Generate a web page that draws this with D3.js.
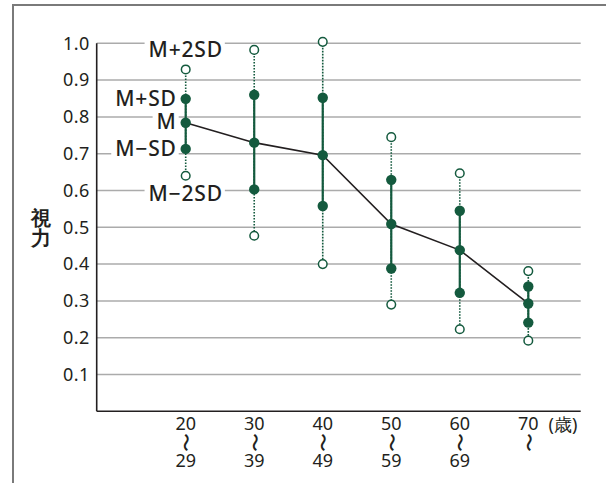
<!DOCTYPE html>
<html><head><meta charset="utf-8">
<script src="https://cdn.jsdelivr.net/npm/d3@7"></script>
<style>
html,body{margin:0;padding:0;background:#fff;}
svg{display:block;}
text{font-family:"Noto Sans","Open Sans",sans-serif;fill:#231f20;}
</style></head>
<body><svg id="c" width="606" height="483"></svg>
<script>
const categories = ["20","30","40","50","60","70"];
const categoryEnds = ["29","39","49","59","69",""];
const mean     = [0.784, 0.730, 0.696, 0.509, 0.438, 0.293];
const plusSD   = [0.849, 0.860, 0.852, 0.629, 0.545, 0.339];
const minusSD  = [0.713, 0.603, 0.558, 0.388, 0.322, 0.241];
const plus2SD  = [0.929, 0.982, 1.004, 0.745, 0.647, 0.381];
const minus2SD = [0.640, 0.477, 0.400, 0.290, 0.223, 0.192];
const yTicks = [0.1,0.2,0.3,0.4,0.5,0.6,0.7,0.8,0.9,1.0];

const green = "#145a3e";
const svg = d3.select("#c");
const x0 = 96.7, x1 = 580.7;
const y = d3.scaleLinear().domain([0,1]).range([411.3, 43.3]);
const x = d3.scalePoint().domain(categories).range([185.7, 528.3]);

// frame
svg.append("line").attr("x1",13).attr("x2",606).attr("y1",5).attr("y2",5).attr("stroke","#7a7a7a").attr("stroke-width",2);
svg.append("line").attr("x1",13).attr("x2",13).attr("y1",4).attr("y2",483).attr("stroke","#7a7a7a").attr("stroke-width",2);

// gridlines
svg.append("g").selectAll("line").data(yTicks).join("line")
  .attr("x1",x0).attr("x2",x1).attr("y1",d=>y(d)).attr("y2",d=>y(d))
  .attr("stroke","#ababab").attr("stroke-width",1.5);

// y axis labels
const ya = svg.append("g").attr("transform",`translate(${x0},0)`)
  .call(d3.axisLeft(y).tickValues(yTicks).tickSize(0).tickPadding(7).tickFormat(d3.format(".1f")));
ya.select(".domain").remove();
ya.selectAll("text").attr("font-size",18).attr("letter-spacing",0.4).attr("font-family","Noto Sans").attr("fill","#231f20");

// axes lines
svg.append("line").attr("x1",x0).attr("x2",x0).attr("y1",y(1)).attr("y2",y(0)).attr("stroke","#231f20").attr("stroke-width",1.6);
svg.append("line").attr("x1",x0).attr("x2",x1).attr("y1",y(0)).attr("y2",y(0)).attr("stroke","#231f20").attr("stroke-width",1.6);

// x labels
const xa = svg.append("g");
categories.forEach((c,i)=>{
  const cx = x(c);
  xa.append("text").attr("x",cx).attr("y",430).attr("text-anchor","middle").attr("font-size",18).text(c);
  xa.append("text").attr("transform",`translate(${cx},442.5) rotate(90)`).attr("text-anchor","middle").attr("dy","0.33em")
    .attr("font-size",19).attr("font-family","Noto Sans CJK JP").text("〜");
  if (categoryEnds[i]) xa.append("text").attr("x",cx).attr("y",467).attr("text-anchor","middle").attr("font-size",18).text(categoryEnds[i]);
});
svg.append("text").attr("x",563).attr("y",431).attr("text-anchor","middle").attr("font-size",18)
  .attr("font-family","Noto Sans CJK JP").text("(歳)");

// y title (stacked characters)
const yt = svg.append("text").attr("x",41).attr("y",225).attr("text-anchor","middle").attr("font-size",20).attr("font-weight",700)
  .attr("font-family","Noto Sans CJK JP");
yt.append("tspan").attr("x",41).text("視");
yt.append("tspan").attr("x",41).attr("dy",20).text("力");

// error bars
const g = svg.append("g");
categories.forEach((c,i)=>{
  const cx = x(c);
  g.append("line").attr("x1",cx).attr("x2",cx).attr("y1",y(plus2SD[i])).attr("y2",y(minus2SD[i]))
    .attr("stroke",green).attr("stroke-width",1.6).attr("stroke-dasharray","1.6,1.4");
  g.append("line").attr("x1",cx).attr("x2",cx).attr("y1",y(plusSD[i])).attr("y2",y(minusSD[i]))
    .attr("stroke",green).attr("stroke-width",2.2);
});

// mean line
svg.append("path").datum(mean)
  .attr("d", d3.line().x((d,i)=>x(categories[i])).y(d=>y(d)))
  .attr("fill","none").attr("stroke","#231f20").attr("stroke-width",1.6);

// markers
categories.forEach((c,i)=>{
  const cx = x(c);
  [plus2SD[i], minus2SD[i]].forEach(v=>{
    svg.append("circle").attr("cx",cx).attr("cy",y(v)).attr("r",4.3).attr("fill","#fff").attr("stroke",green).attr("stroke-width",1.5);
  });
  [plusSD[i], mean[i], minusSD[i]].forEach(v=>{
    svg.append("circle").attr("cx",cx).attr("cy",y(v)).attr("r",5.2).attr("fill",green);
  });
});

// annotation labels
function label(txt, lx, ly, anchor){
  const t = svg.append("text").attr("x",lx).attr("y",ly).attr("text-anchor",anchor).attr("dy","0.35em")
    .attr("font-size",21).attr("letter-spacing",0.8).attr("font-weight",500).text(txt);
  const b = t.node().getBBox();
  svg.insert("rect", function(){return t.node();}).attr("x",b.x-4).attr("y",b.y+4).attr("width",b.width+6).attr("height",b.height-8).attr("fill","#fff");
}
const xf = x(categories[0]);
label("M+2SD", xf, 50, "middle");
label("M+SD", xf-9, 99, "end");
label("M", xf-9, 122, "end");
label("M−SD", xf-9, 149, "end");
label("M−2SD", xf, 194, "middle");
</script></body></html>
